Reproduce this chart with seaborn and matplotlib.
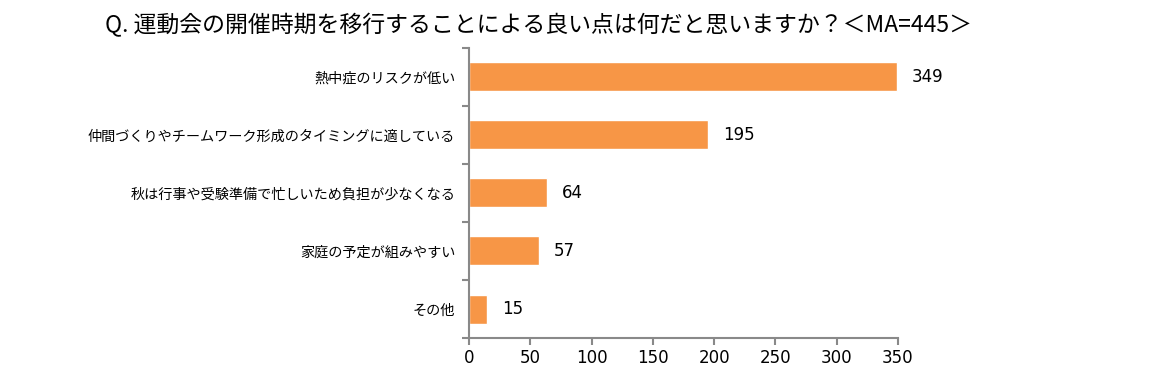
import numpy as np
import pandas as pd
import seaborn as sns
import matplotlib.pyplot as plt
from matplotlib.ticker import FixedLocator

# Data
items = [
    "熱中症のリスクが低い",
    "仲間づくりやチームワーク形成のタイミングに適している",
    "秋は行事や受験準備で忙しいため負担が少なくなる",
    "家庭の予定が組みやすい",
    "その他",
]
counts = [349, 195, 64, 57, 15]
x_ticks = [0, 50, 100, 150, 200, 250, 300, 350]
title = "Q. 運動会の開催時期を移行することによる良い点は何だと思いますか？＜MA=445＞"

df = pd.DataFrame({"item": items, "count": counts})

sns.set_style("white")
plt.rcParams['font.family'] = ['Noto Sans CJK JP', 'DejaVu Sans']
plt.rcParams['text.color'] = 'black'
plt.rcParams['xtick.color'] = 'black'
plt.rcParams['ytick.color'] = 'black'

fig = plt.figure(figsize=(11.53, 3.91), dpi=100)
ax = fig.add_axes([0.4068, 0.1355, 0.372, 0.742])

sns.barplot(data=df, x="count", y="item", orient="h", color="#F79646",
            saturation=1, width=0.5, ax=ax)

# value labels
for i, v in enumerate(counts):
    ax.text(v + 12, i, str(v), va="center", ha="left", fontsize=12,
            family="DejaVu Sans", color="black")

ax.set_xlim(0, 350)
ax.set_ylim(len(items) - 0.5, -0.5)
ax.set_xticks(x_ticks)
ax.set_xticklabels([str(t) for t in x_ticks], fontsize=12, family="DejaVu Sans")
ax.set_xlabel("")
ax.set_ylabel("")
ax.tick_params(axis="y", which="major", left=False, length=0, labelsize=10.2,
               labelcolor="black", pad=10)
ax.yaxis.set_minor_locator(FixedLocator(np.arange(-0.5, len(items), 1.0)))
ax.tick_params(axis="y", which="minor", left=True, length=5, width=1.5,
               color="#898989", direction="out")
ax.tick_params(axis="x", which="major", bottom=True, length=5, width=1.5,
               color="#898989", labelcolor="black", direction="out", pad=3)

for s in ["top", "right"]:
    ax.spines[s].set_visible(False)
for s in ["left", "bottom"]:
    ax.spines[s].set_color("#898989")
    ax.spines[s].set_linewidth(1.5)

fig.text(0.467, 0.935, title, ha="center", va="center", fontsize=16.5, color="black")

fig.savefig("out.png", dpi=100)
